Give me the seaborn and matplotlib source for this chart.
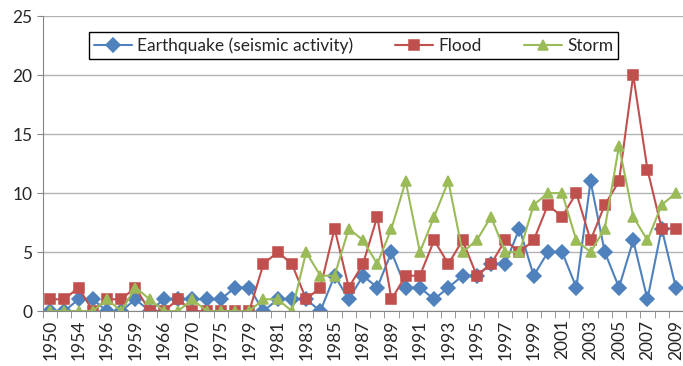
import numpy as np
import pandas as pd
import matplotlib
matplotlib.use('Agg')
import matplotlib.pyplot as plt
import seaborn as sns

years = ['1950', '1953', '1954', '1955', '1956', '1957', '1959', '1962', '1966', '1968',
         '1970', '1972', '1975', '1977', '1979', '1980', '1981', '1982', '1983', '1984',
         '1985', '1986', '1987', '1988', '1989', '1990', '1991', '1992', '1993', '1994',
         '1995', '1996', '1997', '1998', '1999', '2000', '2001', '2002', '2003', '2004',
         '2005', '2006', '2007', '2008', '2009']

earthquake = [0, 0, 1, 1, 0, 0, 1, 0, 1, 1, 1, 1, 1, 2, 2, 0, 1, 1, 1, 0, 3, 1, 3, 2, 5,
              2, 2, 1, 2, 3, 3, 4, 4, 7, 3, 5, 5, 2, 11, 5, 2, 6, 1, 7, 2]
flood = [1, 1, 2, 0, 1, 1, 2, 0, 0, 1, 0, 0, 0, 0, 0, 4, 5, 4, 1, 2, 7, 2, 4, 8, 1,
         3, 3, 6, 4, 6, 3, 4, 6, 5, 6, 9, 8, 10, 6, 9, 11, 20, 12, 7, 7]
storm = [0, 0, 0, 0, 1, 0, 2, 1, 0, 0, 1, 0, 0, 0, 0, 1, 1, 0, 5, 3, 3, 7, 6, 4, 7,
         11, 5, 8, 11, 5, 6, 8, 5, 5, 9, 10, 10, 6, 5, 7, 14, 8, 6, 9, 10]

series_names = ['Earthquake (seismic activity)', 'Flood', 'Storm']
colors = ['#4F81BD', '#C0504D', '#9BBB59']

df = pd.DataFrame({
    'year': years * 3,
    'count': earthquake + flood + storm,
    'type': [series_names[0]] * len(years) + [series_names[1]] * len(years) + [series_names[2]] * len(years),
})

sns.set_style('white')
plt.rcParams['font.family'] = ['Lato', 'DejaVu Sans']

fig = plt.figure(figsize=(6.83, 3.66), dpi=100)
ax = fig.add_axes([0.063, 0.150, 0.937, 0.806])

sns.pointplot(data=df, x='year', y='count', hue='type', hue_order=series_names,
              palette=colors, markers=['D', 's', '^'], linestyles='-', errorbar=None,
              markersize=7, linewidth=1.5, ax=ax)

ax.set_xlim(-0.5, 44.25)
ax.set_ylim(0, 25)
ax.set_yticks([0, 5, 10, 15, 20, 25])
ax.tick_params(axis='y', labelsize=12.5, length=4, direction='out', color='#868686', left=True)

ax.set_xticks(range(0, len(years), 2))
ax.set_xticklabels(years[::2], rotation=90, fontsize=12.5)
ax.set_xticks(np.arange(-0.5, len(years), 1), minor=True)
ax.tick_params(axis='x', which='major', length=0, pad=6)
ax.tick_params(axis='x', which='minor', length=5, direction='out', color='#868686', bottom=True)

ax.yaxis.grid(True, color='#b3b3b3', lw=1)
ax.xaxis.grid(False)
ax.set_axisbelow(True)
for side in ['top', 'right']:
    ax.spines[side].set_visible(False)
for side in ['left', 'bottom']:
    ax.spines[side].set_color('#868686')
ax.set_xlabel('')
ax.set_ylabel('')

handles, labels = ax.get_legend_handles_labels()
leg = ax.legend(handles, labels, ncol=3, loc='upper left', bbox_to_anchor=(0.058, 0.975),
                frameon=True, fancybox=False, edgecolor='black', framealpha=1, fontsize=12.5,
                handlelength=2.2, columnspacing=2.4, borderpad=0.3, handletextpad=0.3)
leg.get_frame().set_linewidth(1)

fig.savefig('out.png', dpi=100)
